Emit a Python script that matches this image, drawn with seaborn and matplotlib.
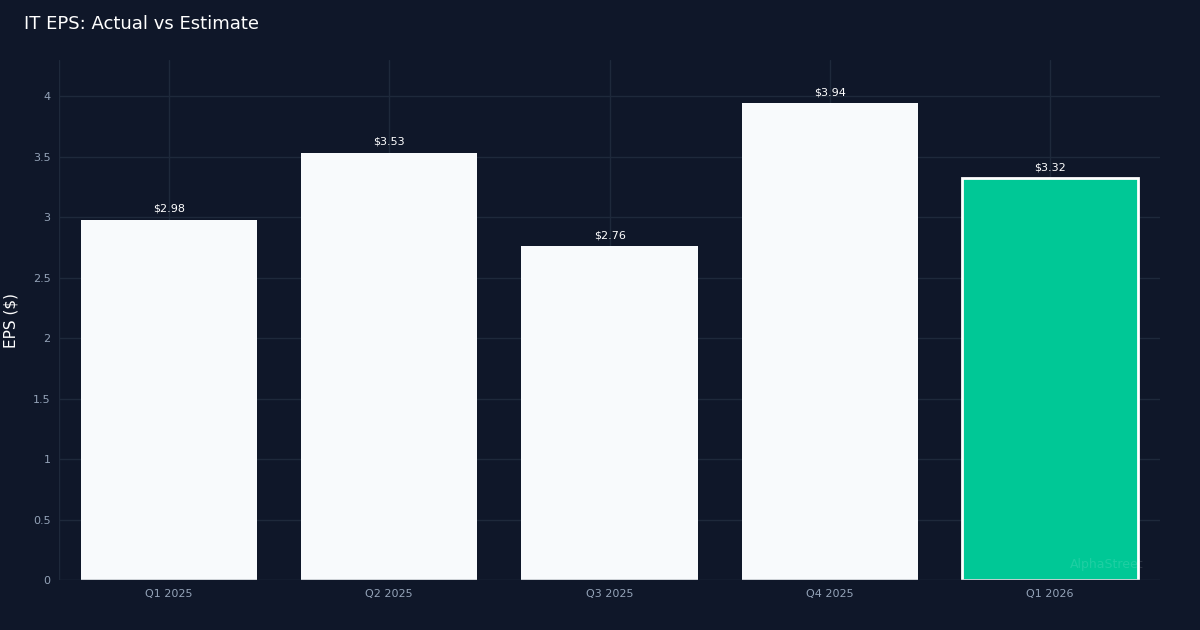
import matplotlib
matplotlib.use("Agg")
import matplotlib.pyplot as plt
import seaborn as sns
import pandas as pd

quarters = ["Q1 2025", "Q2 2025", "Q3 2025", "Q4 2025", "Q1 2026"]
eps = [2.98, 3.53, 2.76, 3.94, 3.32]
labels = ["$2.98", "$3.53", "$2.76", "$3.94", "$3.32"]

BG = "#0f1729"
sns.set_theme(style="dark")
plt.rcParams['font.family'] = ['DejaVu Sans']

fig = plt.figure(figsize=(12, 6.3), dpi=100, facecolor=BG)
ax = fig.add_axes([0.049, 0.079, 0.918, 0.826])
ax.set_facecolor(BG)
df = pd.DataFrame({"q": quarters, "eps": eps})
colors = ["#f8fafc"] * 4 + ["#00c896"]
sns.barplot(data=df, x="q", y="eps", hue="q", palette=colors, legend=False,
            width=0.8, ax=ax, saturation=1)
for i, p in enumerate(ax.patches):
    if i == 4:
        p.set_edgecolor("white")
        p.set_linewidth(2)
    else:
        p.set_linewidth(0)
for i, (v, l) in enumerate(zip(eps, labels)):
    ax.text(i, v + 0.05, l, ha="center", va="bottom", color="white", fontsize=8)

ax.set_xlim(-0.5, 4.5)
ax.set_ylim(0, 4.3)
ax.set_yticks([0, 0.5, 1, 1.5, 2, 2.5, 3, 3.5, 4])
ax.set_yticklabels(["0", "0.5", "1", "1.5", "2", "2.5", "3", "3.5", "4"])
ax.tick_params(colors="#94a3b8", labelsize=8, length=0, pad=6)
ax.grid(True, color="#1e293b", linewidth=1)
ax.set_axisbelow(True)
for s in ax.spines.values():
    s.set_visible(False)
ax.axhline(0, color="#1e293b", lw=1)
ax.axvline(-0.5, color="#1e293b", lw=1)
ax.set_xlabel("")
ax.set_ylabel("EPS ($)", color="white", fontsize=11)
ax.yaxis.set_label_coords(-0.037, 0.5)
fig.text(0.02, 0.962, "IT EPS: Actual vs Estimate", color="white", fontsize=13, va="center")
ax.text(0.985, 0.03, "AlphaStreet", transform=ax.transAxes, ha="right", va="center",
        color="#ffffff", alpha=0.12, fontsize=9)
fig.savefig("out.png", facecolor=BG)
